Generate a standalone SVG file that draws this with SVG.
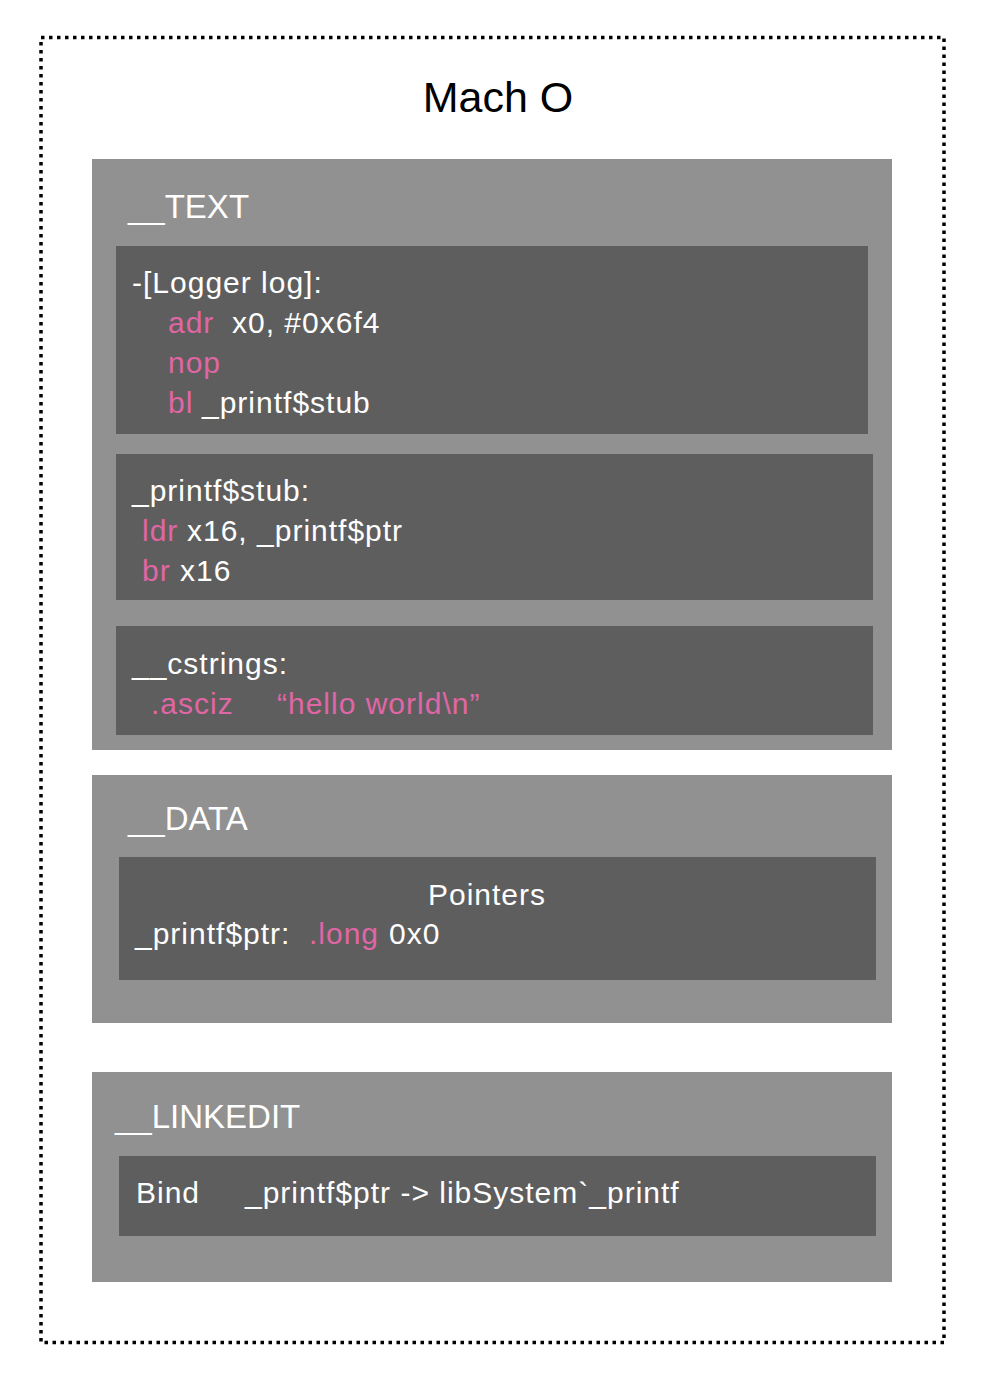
<svg xmlns="http://www.w3.org/2000/svg" width="988" height="1382" viewBox="0 0 988 1382">
<style>
  .seg { fill: #919191; }
  .blk { fill: #5e5e5e; }
  .hdr { font-family: "Liberation Sans", Arial, sans-serif; font-size: 33px; fill: #ffffff; }
  .code { font-family: "Liberation Sans", Arial, sans-serif; font-size: 30px; letter-spacing: 1px; fill: #ffffff; }
  .kw { fill: #e066a6; }
  .title { font-family: "Liberation Sans", Arial, sans-serif; font-size: 43px; fill: #000000; }
</style>
<rect width="988" height="1382" fill="#ffffff"/>
<g id="macho">
  <rect x="41" y="37.5" width="903" height="1305" fill="none" stroke="#000000" stroke-width="3.5" stroke-dasharray="3.5 4.5"/>
  <text class="title" x="498" y="112" text-anchor="middle">Mach O</text>
</g>
<g id="text-segment">
  <rect class="seg" x="92" y="159" width="800" height="591"/>
  <text class="hdr" x="128" y="218">__TEXT</text>
</g>
<g id="logger-log">
  <rect class="blk" x="116" y="246" width="752" height="188"/>
  <text class="code" x="132" y="293">-[Logger log]:</text>
  <text class="code" y="333"><tspan class="kw" x="168">adr</tspan><tspan x="232">x0, #0x6f4</tspan></text>
  <text class="code" y="373"><tspan class="kw" x="168">nop</tspan></text>
  <text class="code" y="413"><tspan class="kw" x="168">bl</tspan><tspan x="202">_printf$stub</tspan></text>
</g>
<g id="printf-stub">
  <rect class="blk" x="116" y="454" width="757" height="146"/>
  <text class="code" x="132" y="501">_printf$stub:</text>
  <text class="code" y="541"><tspan class="kw" x="142">ldr</tspan><tspan x="187">x16, _printf$ptr</tspan></text>
  <text class="code" y="581"><tspan class="kw" x="142">br</tspan><tspan x="180">x16</tspan></text>
</g>
<g id="cstrings">
  <rect class="blk" x="116" y="626" width="757" height="109"/>
  <text class="code" x="132" y="674">__cstrings:</text>
  <text class="code" y="714"><tspan class="kw" x="151">.asciz</tspan><tspan class="kw" x="277">“hello world\n”</tspan></text>
</g>
<g id="data-segment">
  <rect class="seg" x="92" y="775" width="800" height="248"/>
  <text class="hdr" x="128" y="830">__DATA</text>
</g>
<g id="pointers">
  <rect class="blk" x="119" y="857" width="757" height="123"/>
  <text class="code" x="487" y="905" text-anchor="middle">Pointers</text>
  <text class="code" y="944"><tspan x="135">_printf$ptr:</tspan><tspan class="kw" x="309">.long</tspan><tspan x="389">0x0</tspan></text>
</g>
<g id="linkedit-segment">
  <rect class="seg" x="92" y="1072" width="800" height="210"/>
  <text class="hdr" x="115" y="1128">__LINKEDIT</text>
</g>
<g id="bind">
  <rect class="blk" x="119" y="1156" width="757" height="80"/>
  <text class="code" y="1203"><tspan x="136">Bind</tspan><tspan x="245">_printf$ptr -&gt; libSystem`_printf</tspan></text>
</g>
<g id="connectors"></g>
</svg>
